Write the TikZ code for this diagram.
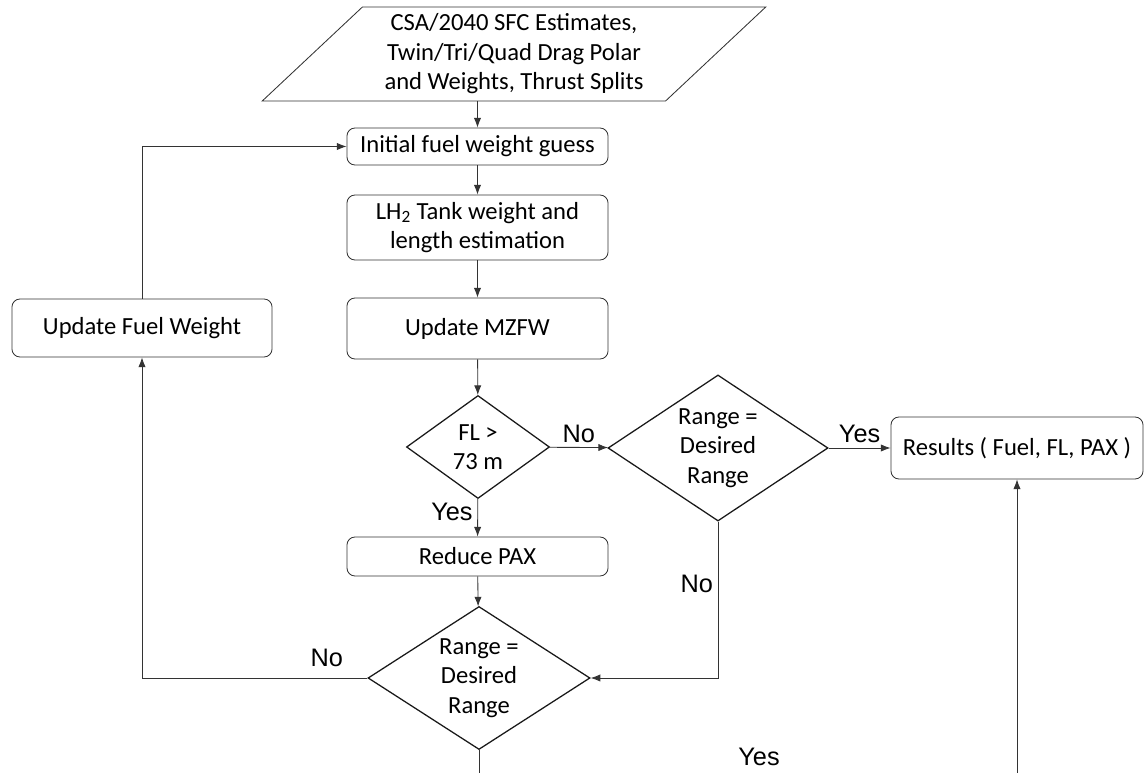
\documentclass[tikz,border=0pt]{standalone}
\usepackage{fontspec}
\setmainfont{Carlito}
\newfontfamily\lblfont{Liberation Sans}
\usetikzlibrary{shapes.geometric,arrows.meta,positioning}

\tikzset{
  flow/.style={draw=black!80, line width=0.6pt, -{Latex[length=2.4mm,width=1.8mm]}},
  link/.style={draw=black!80, line width=0.6pt},
  procbox/.style={draw=black!80, line width=0.6pt, rounded corners=0.2cm,
    align=center, minimum width=6.525cm, inner sep=0pt},
  iobox/.style={trapezium, trapezium left angle=43.2, trapezium right angle=136.8,
    trapezium stretches=true, draw=black!80, line width=0.6pt, align=center,
    inner sep=0pt, minimum width=12.6cm, minimum height=2.35cm},
  decision/.style={diamond, shape aspect=1.5, draw=black!90, line width=0.9pt,
    align=center, inner sep=0pt},
  lbl/.style={font=\lblfont\fontsize{18}{21}\selectfont},
}

\begin{document}
\begin{tikzpicture}[x=0.025cm, y=-0.025cm,
    every node/.style={font=\fontsize{17.5}{21}\selectfont}]
  \useasboundingbox (0,0) rectangle (1147,773);

  \node[iobox] (input) at (514,54)
    {CSA/2040 SFC Estimates,\\ Twin/Tri/Quad Drag Polar\\ and Weights, Thrust Splits};
  \node[procbox, minimum height=0.925cm] (init) at (477.5,146.5) {Initial fuel weight guess};
  \node[procbox, minimum height=1.625cm] (tank) at (477.5,227.5)
    {LH\textsubscript{2} Tank weight and\\ length estimation};
  \node[procbox, minimum height=1.525cm] (mzfw) at (477.5,328.5) {Update MZFW};
  \node[procbox, minimum width=6.5cm, minimum height=1.45cm] (fuelupd) at (142,328)
    {Update Fuel Weight};
  \node[decision, minimum width=3.575cm, minimum height=2.575cm] (fl) at (478,447)
    {FL >\\ 73 m};
  \node[decision, minimum width=5.5cm, minimum height=3.65cm] (range1) at (718,448)
    {Range =\\ Desired\\ Range};
  \node[procbox, minimum width=6.3cm, minimum height=1.55cm] (results) at (1017,448)
    {Results ( Fuel, FL, PAX )};
  \node[procbox, minimum height=0.975cm] (pax) at (477.5,556.5) {Reduce PAX};
  \node[decision, minimum width=5.55cm, minimum height=3.575cm] (range2) at (479,678)
    {Range =\\ Desired\\ Range};

  % ends of the loop below the picture
  \coordinate (cutL) at (479,773);
  \coordinate (cutR) at (1017,773);

  \draw[flow] (init.north |- input.south) -- (init.north);
  \draw[flow] (init) -- (tank);
  \draw[flow] (tank) -- (mzfw);
  \draw[flow] (mzfw) -- (fl);
  \draw[flow] (fl) -- node[lbl, above] {No} (range1);
  \draw[flow] (range1) -- node[lbl, above] {Yes} (results);
  \draw[flow] (fl) -- node[lbl, left, pos=0.35] {Yes} (pax);
  \draw[flow] (pax) -- (range2);
  \draw[flow] (range1.south) |- node[lbl, left, pos=0.2] {No} (range2.east);
  \draw[flow] (range2.west) -| node[lbl, above=0.15cm, pos=0.09] {No} (fuelupd.south);
  \draw[flow] (fuelupd.north) |- (init.west);
  \draw[link] (range2.south) -- (cutL);
  \draw[flow] (cutR) -- (results.south);
  \node[lbl] (yesend) at (759,757) {Yes};
\end{tikzpicture}
\end{document}
